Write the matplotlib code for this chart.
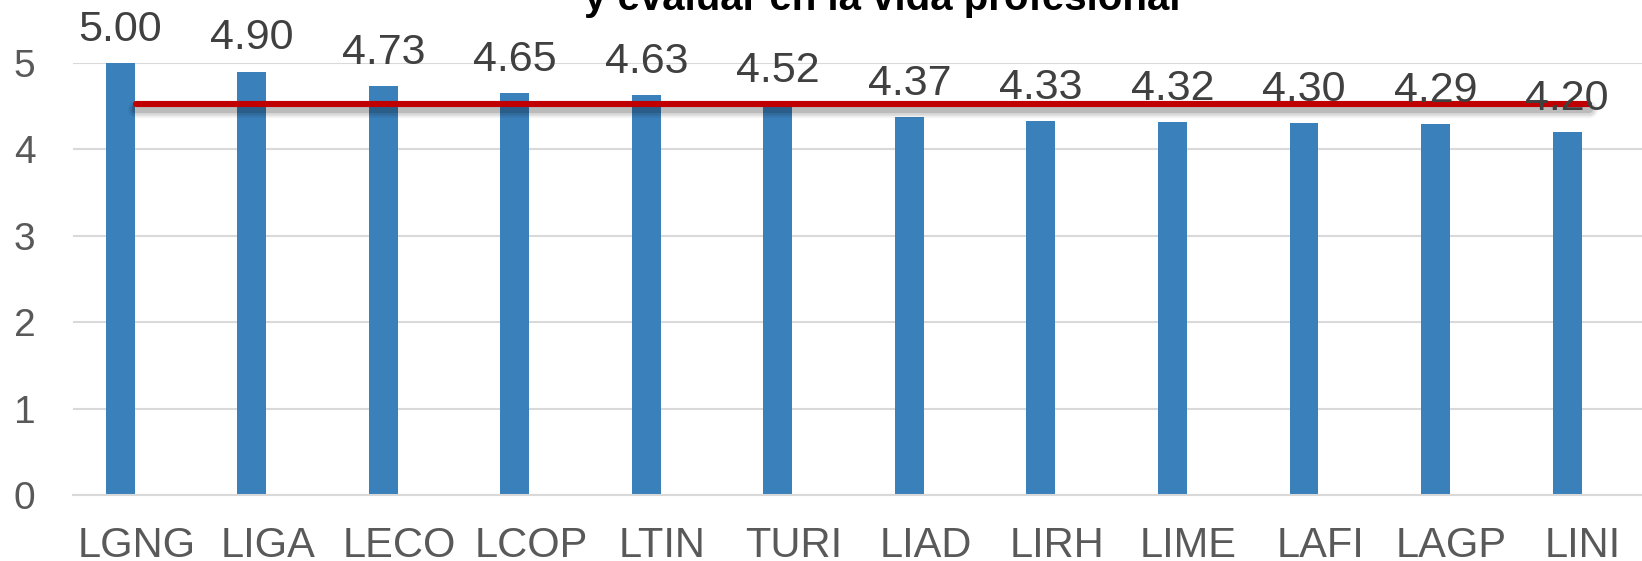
import matplotlib
matplotlib.use('Agg')
from matplotlib import pyplot as plt
import matplotlib.patheffects as pe
import matplotlib.transforms as mtransforms

# data
categories = ['LGNG', 'LIGA', 'LECO', 'LCOP', 'LTIN', 'TURI',
              'LIAD', 'LIRH', 'LIME', 'LAFI', 'LAGP', 'LINI']
values = [5.00, 4.90, 4.73, 4.65, 4.63, 4.52, 4.37, 4.33, 4.32, 4.30, 4.29, 4.20]
average = sum(values) / len(values)
title_line = 'y evaluar en la vida profesional'

plt.rcParams['font.family'] = ['Liberation Sans', 'DejaVu Sans']

fig = plt.figure(figsize=(16.42, 5.61), dpi=100)
ax = fig.add_axes([73 / 1642, 66 / 561, 1 - 73 / 1642, 432 / 561])

x = list(range(len(categories)))
bars = ax.bar(x, values, width=0.22, color='#3A80BA', zorder=2)

for xi, v in zip(x, values):
    ax.annotate(f'{v:.2f}', (xi, v), xytext=(0, 16), textcoords='offset points',
                ha='center', va='baseline', fontsize=31, color='#404040',
                annotation_clip=False, zorder=5)

# average line with soft shadow
shadow = [pe.SimpleLineShadow(offset=(0, -3), shadow_color='black', alpha=a, linewidth=lw)
          for lw, a in [(12, 0.06), (9, 0.09), (6, 0.14)]]
ax.plot([x[0] + 0.12, x[-1] + 0.17], [average, average], color='#C00000', lw=4.4,
        solid_capstyle='round', clip_on=False, zorder=4,
        path_effects=shadow + [pe.Normal()])

ax.set_xlim(-0.36, 11.57)
ax.set_ylim(0, 5)
ax.set_yticks([0, 1, 2, 3, 4, 5])
ax.set_xticks(x)
ax.set_xticklabels(categories)
ax.tick_params(axis='x', length=0, pad=22, labelsize=30, labelcolor='#595959')
ax.tick_params(axis='y', length=0, pad=27, labelsize=28, labelcolor='#595959')

# category labels sit a bit right of the bars in the original
shift = mtransforms.ScaledTranslation(16 / 100, 0, fig.dpi_scale_trans)
for lab in ax.get_xticklabels():
    lab.set_transform(lab.get_transform() + shift)

ax.grid(axis='y', color='#D9D9D9', lw=1.5, zorder=0)
ax.set_axisbelow(True)
for s in ax.spines.values():
    s.set_visible(False)
ax.spines['bottom'].set_visible(True)
ax.spines['bottom'].set_color('#D9D9D9')
ax.spines['bottom'].set_linewidth(1.5)

# title (second line, cut at top of image)
fig.text(0.537, 1 - 10 / 561, title_line, ha='center', va='baseline',
         fontsize=29, fontweight='bold', color='black')

plt.savefig('out.png', dpi=100)
